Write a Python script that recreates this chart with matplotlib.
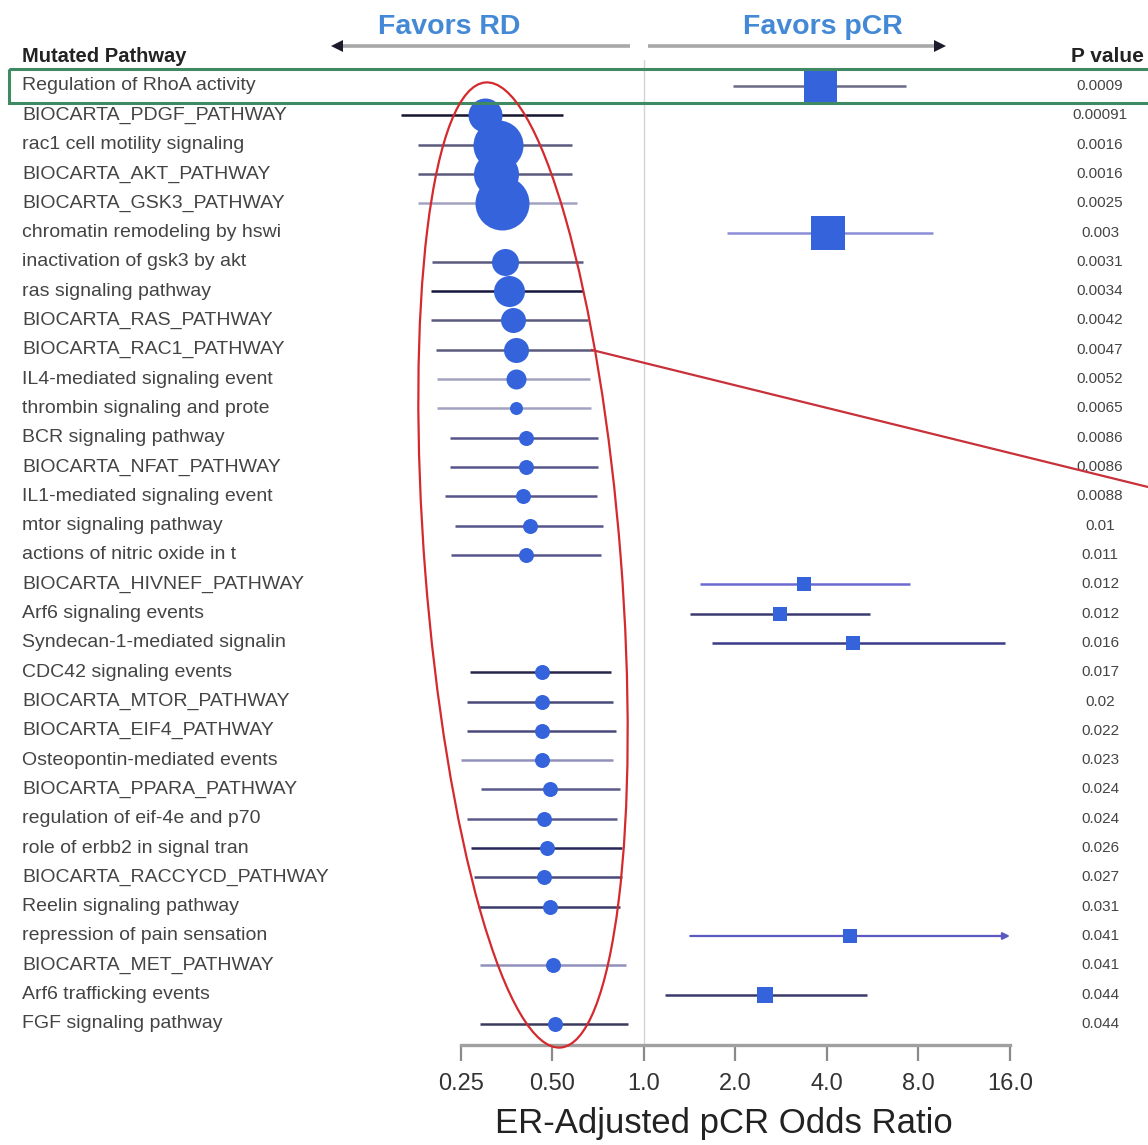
import numpy as np
import matplotlib
matplotlib.use("Agg")
import matplotlib.pyplot as plt
from matplotlib.patches import Ellipse, Rectangle

plt.rcParams["font.family"] = ["Liberation Sans", "DejaVu Sans"]

# ---- data -----------------------------------------------------------------
pathways = [
    "Regulation of RhoA activity",
    "BIOCARTA_PDGF_PATHWAY",
    "rac1 cell motility signaling",
    "BIOCARTA_AKT_PATHWAY",
    "BIOCARTA_GSK3_PATHWAY",
    "chromatin remodeling by hswi",
    "inactivation of gsk3 by akt",
    "ras signaling pathway",
    "BIOCARTA_RAS_PATHWAY",
    "BIOCARTA_RAC1_PATHWAY",
    "IL4-mediated signaling event",
    "thrombin signaling and prote",
    "BCR signaling pathway",
    "BIOCARTA_NFAT_PATHWAY",
    "IL1-mediated signaling event",
    "mtor signaling pathway",
    "actions of nitric oxide in t",
    "BIOCARTA_HIVNEF_PATHWAY",
    "Arf6 signaling events",
    "Syndecan-1-mediated signalin",
    "CDC42 signaling events",
    "BIOCARTA_MTOR_PATHWAY",
    "BIOCARTA_EIF4_PATHWAY",
    "Osteopontin-mediated events",
    "BIOCARTA_PPARA_PATHWAY",
    "regulation of eif-4e and p70",
    "role of erbb2 in signal tran",
    "BIOCARTA_RACCYCD_PATHWAY",
    "Reelin signaling pathway",
    "repression of pain sensation",
    "BIOCARTA_MET_PATHWAY",
    "Arf6 trafficking events",
    "FGF signaling pathway",
]

odds_ratio = [3.79, 0.30, 0.331, 0.326, 0.341, 4.03, 0.349, 0.36, 0.371, 0.379,
              0.379, 0.379, 0.409, 0.409, 0.40, 0.421, 0.409, 3.36, 2.80, 4.87,
              0.462, 0.462, 0.462, 0.462, 0.49, 0.469, 0.48, 0.469, 0.49, 4.76,
              0.502, 2.50, 0.51]

ci_low = [1.96, 0.159, 0.18, 0.18, 0.18, 1.875, 0.20, 0.199, 0.199, 0.207,
          0.208, 0.208, 0.23, 0.23, 0.221, 0.239, 0.232, 1.53, 1.42, 1.67,
          0.268, 0.262, 0.262, 0.25, 0.291, 0.262, 0.27, 0.276, 0.284, 1.42,
          0.289, 1.17, 0.289]

ci_high = [7.28, 0.541, 0.58, 0.58, 0.602, 8.93, 0.63, 0.63, 0.654, 0.68,
           0.665, 0.669, 0.706, 0.706, 0.70, 0.733, 0.722, 7.5, 5.54, 15.4,
           0.779, 0.791, 0.809, 0.791, 0.834, 0.815, 0.846, 0.846, 0.834, 17.0,
           0.873, 5.42, 0.886]

p_values = ["0.0009", "0.00091", "0.0016", "0.0016", "0.0025", "0.003", "0.0031",
            "0.0034", "0.0042", "0.0047", "0.0052", "0.0065", "0.0086", "0.0086",
            "0.0088", "0.01", "0.011", "0.012", "0.012", "0.016", "0.017", "0.02",
            "0.022", "0.023", "0.024", "0.024", "0.026", "0.027", "0.031", "0.041",
            "0.041", "0.044", "0.044"]

# relative weight of each estimate (drives marker size)
weights = [33, 34, 50, 45, 54, 34, 27, 31, 25, 25, 20, 13, 15, 15, 15, 15, 15,
           14, 14, 14, 15, 15, 15, 15, 15, 15, 15, 15, 15, 14, 15, 16, 15]

ticks = [0.25, 0.5, 1.0, 2.0, 4.0, 8.0, 16.0]
tick_labels = ["0.25", "0.50", "1.0", "2.0", "4.0", "8.0", "16.0"]

# ---- styles ---------------------------------------------------------------
line_colors = ["#6a6a86", "#15152e", "#5a5a7e", "#5a5a7e", "#a2a2c0", "#8c8cd8",
               "#5a5a7e", "#15153e", "#5a5a7e", "#5a5a7e", "#a2a2c0", "#a2a2c0",
               "#55558a", "#55558a", "#55558a", "#55558a", "#55558a", "#6a6ad0",
               "#3a3a70", "#3a3a88", "#26264a", "#4a4a7a", "#4a4a7a", "#9090bb",
               "#5a5a8a", "#5a5a8a", "#26265a", "#4a4a7a", "#3a3a6a", "#5a5ac0",
               "#9090bb", "#3a3a6a", "#3a3a5a"]
marker_color = "#3563DC"
label_color = "#444444"

W, H = 1148, 1145
fig = plt.figure(figsize=(W / 100, H / 100), dpi=100)
fig.patch.set_facecolor("white")

# main forest-plot axes spans the full width; log2 scale
px_per_doubling = 91.5
x_low_px, x_high_px = 461, 1010
xmin = ticks[0] * 2 ** (-x_low_px / px_per_doubling)
xmax = ticks[-1] * 2 ** ((W - x_high_px) / px_per_doubling)

top_px, bottom_px = 60, 1045
row0_px, row_step = 86, 29.31
ax = fig.add_axes([0, 1 - bottom_px / H, 1, (bottom_px - top_px) / H])
ax.set_xscale("log", base=2)
ax.set_xlim(xmin, xmax)
ax.set_ylim((bottom_px - row0_px) / row_step, (top_px - row0_px) / row_step)
ax.patch.set_alpha(0)

for side in ("top", "right", "left"):
    ax.spines[side].set_visible(False)
ax.spines["bottom"].set_bounds(ticks[0], ticks[-1])
ax.spines["bottom"].set_color("#a0a0a0")
ax.spines["bottom"].set_linewidth(2.4)
ax.set_yticks([])
ax.set_xticks(ticks)
ax.set_xticklabels(tick_labels)
ax.xaxis.set_minor_locator(matplotlib.ticker.NullLocator())
ax.tick_params(axis="x", direction="out", length=11.5, width=1.6, colors="#8a8a8a",
               labelcolor="#333333", labelsize=17, pad=9)
ax.xaxis.get_major_ticks()[0].tick1line.set_color("#111111")

ax.axvline(1.0, color="#d4d4d4", lw=1.0, zorder=0)

ytr = ax.get_yaxis_transform()
for i, (name, orr, lo, hi, p, wgt) in enumerate(
        zip(pathways, odds_ratio, ci_low, ci_high, p_values, weights)):
    col = line_colors[i]
    if hi > ticks[-1]:
        ax.annotate("", xy=(ticks[-1], i), xytext=(lo, i),
                    arrowprops=dict(arrowstyle="-|>", color=col, lw=1.6,
                                    mutation_scale=10, shrinkA=0, shrinkB=0))
    else:
        ax.plot([lo, hi], [i, i], color=col, lw=1.8, solid_capstyle="butt", zorder=2)
    marker = "s" if orr > 1 else "o"
    ax.plot([orr], [i], marker=marker, ms=wgt * 0.72, color=marker_color,
            mec=marker_color, mew=0, zorder=3, clip_on=False)
    ax.text(22 / W, i, name, transform=ytr, ha="left", va="center",
            fontsize=14, color=label_color)
    ax.text(1100 / W, i, p, transform=ytr, ha="center", va="center",
            fontsize=11, color="#444444")

fig.text(22 / W, 1 - 57 / H, "Mutated Pathway", ha="left", va="center",
         fontsize=14.5, fontweight="bold", color="#222222")
fig.text(1107 / W, 1 - 57 / H, "P value", ha="center", va="center",
         fontsize=15, fontweight="bold", color="#222222")
fig.text(724 / W, 1 - 1123 / H, "ER-Adjusted pCR Odds Ratio", ha="center",
         va="center", fontsize=25, color="#222222")

# ---- annotation overlay in pixel coordinates ------------------------------
ov = fig.add_axes([0, 0, 1, 1], zorder=5)
ov.set_xlim(0, W)
ov.set_ylim(H, 0)
ov.axis("off")
ov.patch.set_alpha(0)

fav_blue = "#4489d6"
ov.text(449, 27, "Favors RD", ha="center", va="center", fontsize=20.5,
        fontweight="bold", color=fav_blue)
ov.text(823, 27, "Favors pCR", ha="center", va="center", fontsize=20.5,
        fontweight="bold", color=fav_blue)
ov.plot([338, 630], [46, 46], color="#a8a8a8", lw=2.6, solid_capstyle="butt")
ov.plot([648, 940], [46, 46], color="#a8a8a8", lw=2.6, solid_capstyle="butt")
ov.plot([337], [46], marker="<", ms=9, color="#1c1c2c", mew=0)
ov.plot([940], [46], marker=">", ms=9, color="#1c1c2c", mew=0)

ov.add_patch(Rectangle((9, 69), W, 34, fill=False, ec="#3f8a62", lw=2.2))
ov.add_patch(Ellipse((523, 565), 196, 968, angle=-4.45, fill=False,
                     ec="#d42a2e", lw=1.6))
ov.plot([592, W], [350, 487], color="#c8303a", lw=1.6)

fig.savefig("out.png", dpi=100)
